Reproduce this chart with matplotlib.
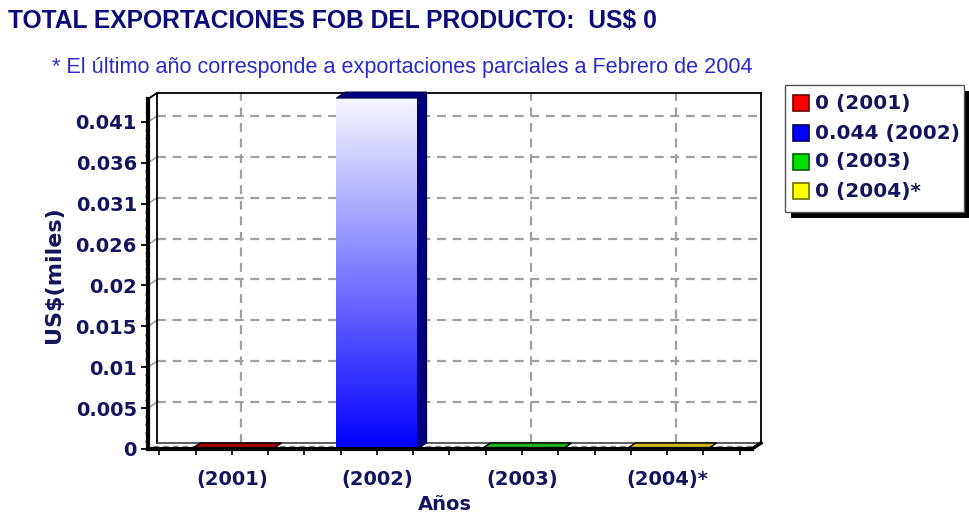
import matplotlib
matplotlib.use('Agg')
import matplotlib.pyplot as plt
import numpy as np
from matplotlib.patches import Polygon, Rectangle
from matplotlib import font_manager
from matplotlib.lines import Line2D

# ---------------- data ----------------
years = ['(2001)', '(2002)', '(2003)', '(2004)*']
values = [0.0, 0.044, 0.0, 0.0]
legend_labels = ['0 (2001)', '0.044 (2002)', '0 (2003)', '0 (2004)*']
legend_colors = ['#ff0000', '#0000ff', '#00e000', '#ffff00']
legend_edges = ['#700000', '#000060', '#006000', '#707000']
top_colors = ['#a80000', '#000080', '#20b020', '#c8b820']
ytick_vals = [0.0, 0.005125, 0.01025, 0.015375, 0.0205, 0.025625, 0.03075, 0.035875, 0.041]
ytick_labels = ['0', '0.005', '0.01', '0.015', '0.02', '0.026', '0.031', '0.036', '0.041']
title = 'TOTAL EXPORTACIONES FOB DEL PRODUCTO:  US$ 0'
subtitle = '* El último año corresponde a exportaciones parciales a Febrero de 2004'

# ---------------- layout ----------------
W, H = 969, 516
NAVY = '#14145e'
fig = plt.figure(figsize=(W / 100, H / 100), dpi=100)
fig.patch.set_facecolor('white')

L, R, T, B = 148, 752, 99, 449
ax = fig.add_axes([L / W, 1 - B / H, (R - L) / W, (B - T) / H])
ax.patch.set_visible(False)
xmin, xmax = -0.579, 3.586
ymax = 0.04388
ax.set_xlim(xmin, xmax)
ax.set_ylim(0, ymax)
sx = (R - L) / (xmax - xmin)
sy = (B - T) / ymax
dx = 9 / sx
dy = 6 / sy

for s in ['top', 'right']:
    ax.spines[s].set_visible(False)
for s in ['left', 'bottom']:
    ax.spines[s].set_linewidth(3)
    ax.spines[s].set_color('black')
    ax.spines[s].set_zorder(6)

ax.set_yticks(ytick_vals, ytick_labels)
ax.set_yticks(list(np.linspace(0, 0.041, 41)), minor=True)
ax.tick_params(axis='y', which='major', length=5, width=1.3, labelsize=14,
               labelcolor=NAVY, pad=3)
ax.tick_params(axis='y', which='minor', length=2, width=1)
for lab in ax.get_yticklabels():
    lab.set_fontweight('bold')

ax.set_xticks(range(len(years)), years)
ax.set_xticks(list(np.arange(-0.5, 3.6, 0.25)), minor=True)
ax.tick_params(axis='x', which='both', length=4, width=1.2, labelsize=14,
               labelcolor=NAVY, pad=11)
for lab in ax.get_xticklabels():
    lab.set_fontweight('bold')

ax.set_ylabel('US$(miles)', fontsize=16, fontweight='bold', color=NAVY)
ax.yaxis.set_label_coords((64 - L) / (R - L), (B - 275) / (B - T))

def line(xs, ys, **kw):
    ax.add_line(Line2D(xs, ys, clip_on=False, **kw))

grid_kw = dict(color='#a0a0a0', lw=1.6, linestyle=(0, (4, 3)), zorder=1)
# back wall gridlines
for t in ytick_vals[1:]:
    line([xmin + dx, xmax + dx], [t + dy, t + dy], **grid_kw)
    line([xmin, xmin + dx], [t, t + dy], color='#a0a0a0', lw=1.2, zorder=1)
for i in range(len(years)):
    line([i + dx, i + dx], [dy, ymax + dy], **grid_kw)
# floor dashes
line([xmin + dx / 2, xmax + dx / 2], [dy / 2, dy / 2], color='#909090', lw=1,
     linestyle=(0, (4, 3)), zorder=1)

# back wall frame
frame_kw = dict(color='black', lw=1.3, zorder=2)
line([xmin + dx, xmin + dx], [dy, ymax + dy], **frame_kw)
line([xmin + dx, xmax + dx], [ymax + dy, ymax + dy], **frame_kw)
line([xmax + dx, xmax + dx], [dy, ymax + dy], **frame_kw)
line([xmin + dx, xmax + dx], [dy, dy], color='#404040', lw=1.2, zorder=2)
line([xmin, xmin + dx], [ymax, ymax + dy], **frame_kw)
line([xmax, xmax + dx], [0, dy], color='black', lw=2.5, zorder=6)

# bars
w = 0.56
for i, v in enumerate(values):
    x0, x1 = i - w / 2, i + w / 2
    if v > 0:
        n = 256
        frac = np.linspace(0, 1, n)[:, None]
        top_c = np.array([0.97, 0.97, 1.0])
        bot_c = np.array([0.0, 0.0, 1.0])
        grad = (1 - frac) * top_c + frac * bot_c
        grad = np.repeat(grad[:, None, :], 2, axis=1)
        ax.imshow(grad, extent=[x0, x1, 0, v], aspect='auto', origin='upper',
                  interpolation='bilinear', zorder=4, clip_on=False)
        ax.add_patch(Polygon([(x1, 0), (x1 + dx, dy), (x1 + dx, v + dy), (x1, v)],
                             closed=True, facecolor=top_colors[i], edgecolor='#000040',
                             lw=0.8, zorder=4, clip_on=False))
        ax.add_patch(Polygon([(x0, v), (x1, v), (x1 + dx, v + dy), (x0 + dx, v + dy)],
                             closed=True, facecolor=top_colors[i], edgecolor='#000040',
                             lw=0.8, zorder=4, clip_on=False))
    else:
        ax.add_patch(Polygon([(x0, 0), (x1, 0), (x1 + dx, dy), (x0 + dx, dy)],
                             closed=True, facecolor=top_colors[i], edgecolor='black',
                             lw=1, zorder=4, clip_on=False))
ax.set_xlim(xmin, xmax)
ax.set_ylim(0, ymax)

# ---------------- overlay (pixel coords) ----------------
ov = fig.add_axes([0, 0, 1, 1])
ov.set_xlim(0, W)
ov.set_ylim(H, 0)
ov.axis('off')
ov.patch.set_visible(False)

names = {f.name for f in font_manager.fontManager.ttflist}
title_font = 'Liberation Sans Narrow' if 'Liberation Sans Narrow' in names else 'Liberation Sans'

renderer = fig.canvas.get_renderer()

def fit(txt, target):
    for _ in range(3):
        bb = txt.get_window_extent(renderer=renderer)
        txt.set_fontsize(txt.get_fontsize() * target / bb.width)

t1 = ov.text(8, 21, title, fontsize=20, fontweight='bold', family=title_font,
             color='#0c0c78', va='center', ha='left')
fit(t1, 652)
t2 = ov.text(52, 68, subtitle, fontsize=13, family='Liberation Sans',
             color='#2a2acc', va='center', ha='left')
fit(t2, 701)

ov.text(445, 505, 'Años', fontsize=14, fontweight='bold', color=NAVY,
        ha='center', va='center')

# legend
ov.add_patch(Rectangle((791, 91), 178, 127, facecolor='black', edgecolor='none'))
ov.add_patch(Rectangle((785, 85), 179, 127, facecolor='white', edgecolor='#555555', lw=1))
row_y = [103, 133, 162, 191]
for lab, fc, ec, yy in zip(legend_labels, legend_colors, legend_edges, row_y):
    ov.add_patch(Rectangle((793, yy - 8), 16, 16, facecolor=fc, edgecolor=ec, lw=1.2))
    ov.text(815, yy, lab, fontsize=14.5, fontweight='bold', color=NAVY,
            va='center', ha='left')

fig.savefig('out.png', dpi=100)
